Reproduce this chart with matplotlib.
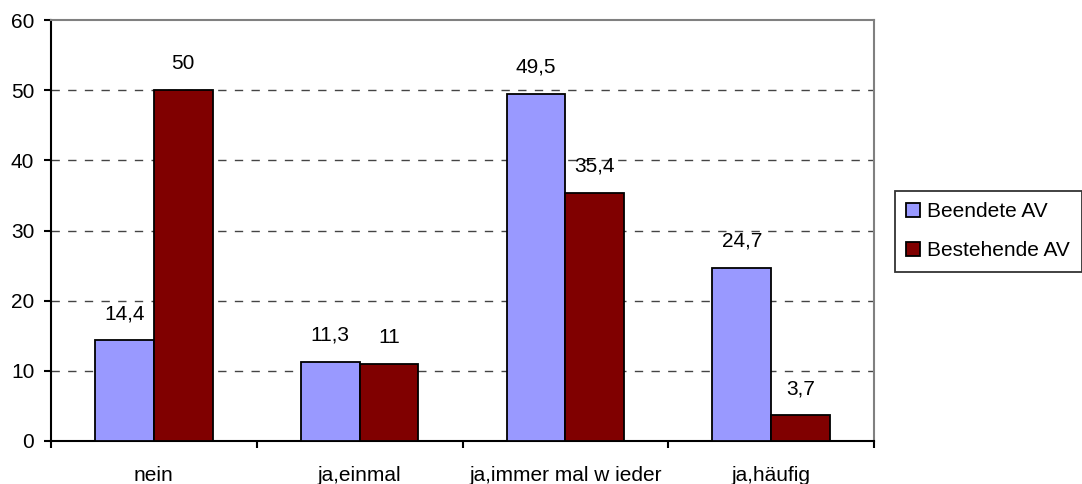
import numpy as np
import matplotlib
matplotlib.use("Agg")
import matplotlib.pyplot as plt

plt.rcParams['font.family'] = ['Liberation Sans', 'DejaVu Sans']

kategorien = ["nein", "ja,einmal", "ja,immer mal w ieder", "ja,häufig"]
beendet = [14.4, 11.3, 49.5, 24.7]
bestehend = [50, 11, 35.4, 3.7]
beendet_txt = ["14,4", "11,3", "49,5", "24,7"]
bestehend_txt = ["50", "11", "35,4", "3,7"]

fs = 15

fig = plt.figure(figsize=(10.82, 4.84), dpi=100)
ax = fig.add_axes([51/1082, 1 - 441/484, 823/1082, 421/484])

x = np.arange(len(kategorien))
w = 0.285
ax.bar(x - w/2, beendet, w, color="#9999ff", edgecolor="black", linewidth=1.3,
       label="Beendete AV", zorder=3)
ax.bar(x + w/2, bestehend, w, color="#800000", edgecolor="black", linewidth=1.3,
       label="Bestehende AV", zorder=3)

# Werte über den Balken
for xs, werte, texte in ((x - w/2, beendet, beendet_txt), (x + w/2, bestehend, bestehend_txt)):
    for xi, v, t in zip(xs, werte, texte):
        ax.annotate(t, (xi, v), xytext=(0, 19), textcoords="offset points",
                    ha="center", va="center", fontsize=fs)

ax.set_xlim(-0.5, 3.5)
ax.set_ylim(0, 60)
ax.set_yticks(range(0, 61, 10))
ax.set_yticklabels([str(v) for v in range(0, 61, 10)], fontsize=fs)
ax.set_xticks(x)
ax.set_xticklabels(kategorien, fontsize=fs)
ax.tick_params(axis="x", length=0, pad=18)
ax.set_xticks(np.arange(-0.5, 4, 1), minor=True)
ax.tick_params(axis="x", which="minor", length=5, width=1.5, direction="out")
ax.tick_params(axis="y", length=5, width=1.5, direction="out", pad=7)

for y in range(10, 60, 10):
    ax.axhline(y, color="#444444", linestyle=(0, (6, 6)), linewidth=1.0, zorder=1)

ax.spines["left"].set_linewidth(1.5)
ax.spines["bottom"].set_linewidth(1.5)
for s in ("top", "right"):
    ax.spines[s].set_color("#808080")
    ax.spines[s].set_linewidth(1.5)

leg = ax.legend(loc="upper left", bbox_to_anchor=(895/1082, 1 - 191/484), bbox_transform=fig.transFigure,
                fontsize=fs, frameon=True, fancybox=False, edgecolor="black",
                handlelength=0.65, handleheight=0.65, handletextpad=0.35, borderpad=0.55,
                labelspacing=0.95, borderaxespad=0)
leg.get_frame().set_linewidth(1.3)

fig.savefig("out.png", dpi=100)
